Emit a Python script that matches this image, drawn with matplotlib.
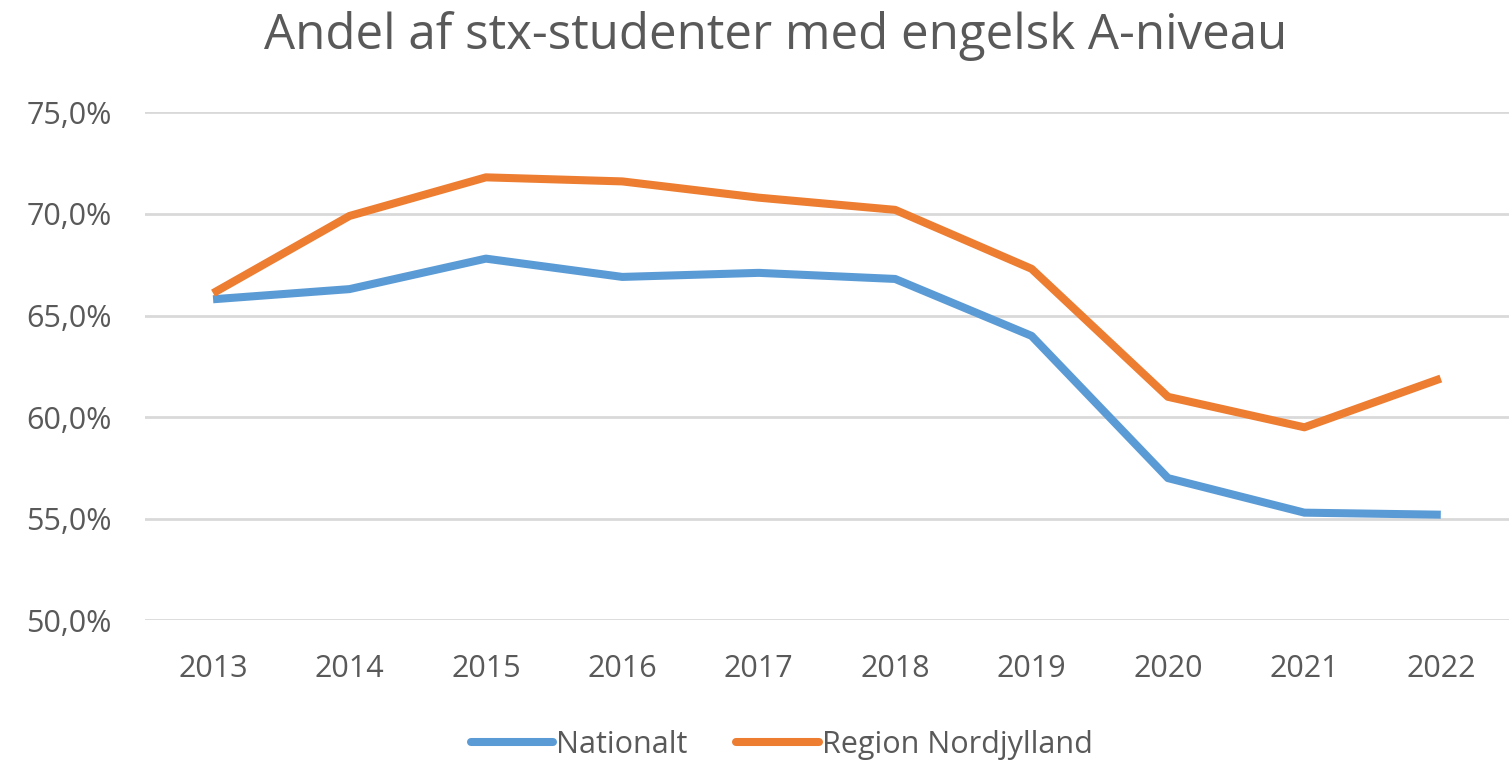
import matplotlib.pyplot as plt
from matplotlib.ticker import FuncFormatter

years = [2013, 2014, 2015, 2016, 2017, 2018, 2019, 2020, 2021, 2022]
nationalt = [65.8, 66.3, 67.8, 66.9, 67.1, 66.8, 64.0, 57.0, 55.3, 55.2]
nordjylland = [66.1, 69.9, 71.8, 71.6, 70.8, 70.2, 67.3, 61.0, 59.5, 61.9]

plt.rcParams['font.family'] = ['Open Sans', 'DejaVu Sans']
text_col = '#595959'

fig = plt.figure(figsize=(15.09, 7.64), dpi=100)
ax = fig.add_axes([0.096, 0.188, 0.904, 0.665])

x = list(range(len(years)))
ax.plot(x, nationalt, color='#5B9BD5', lw=5.8, solid_capstyle='butt', label='Nationalt')
ax.plot(x, nordjylland, color='#ED7D31', lw=5.8, solid_capstyle='butt', label='Region Nordjylland')

ax.set_xlim(-0.5, len(years) - 0.5)
ax.set_ylim(50, 75)
ax.set_yticks([50, 55, 60, 65, 70, 75])
ax.yaxis.set_major_formatter(FuncFormatter(lambda v, p: f'{v:.1f}%'.replace('.', ',')))
ax.set_xticks(x)
ax.set_xticklabels([str(y) for y in years])
ax.grid(axis='y', color='#D9D9D9', lw=2)
ax.set_axisbelow(True)
for s in ax.spines.values():
    s.set_visible(False)
ax.tick_params(length=0, labelsize=22, labelcolor=text_col)
ax.tick_params(axis='y', pad=24)
ax.tick_params(axis='x', pad=24)

fig.suptitle('Andel af stx-studenter med engelsk A-niveau', fontsize=35.5, color=text_col, y=0.985, x=0.514)
leg = fig.legend(loc='center', bbox_to_anchor=(0.518, 0.025), ncol=2, frameon=False, fontsize=22,
                 handlelength=2.7, columnspacing=1.6, handletextpad=0.1, labelcolor=text_col)
for h in leg.get_lines():
    h.set_solid_capstyle('round')

fig.savefig('out.png', dpi=100)
